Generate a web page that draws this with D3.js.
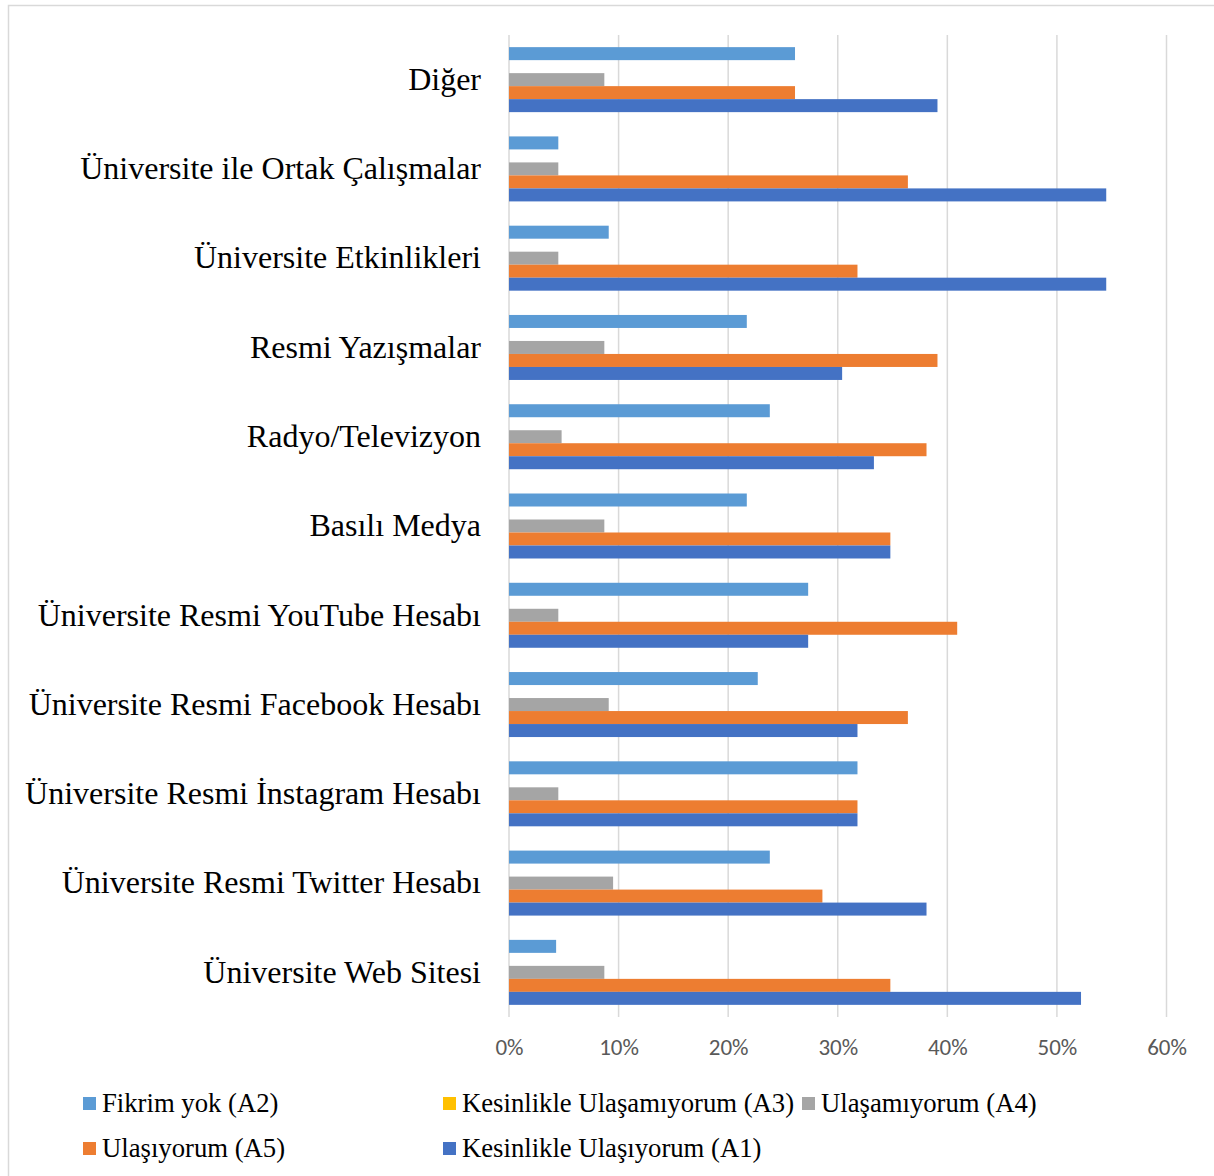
<!DOCTYPE html>
<html>
<head>
<meta charset="utf-8">
<script src="https://cdn.jsdelivr.net/npm/d3@7/dist/d3.min.js"></script>
<style>
html,body{margin:0;padding:0;background:#fff;}
svg{display:block;}
</style>
</head>
<body>
<svg id="chart" width="1214" height="1176"></svg>
<script>
// Categories, top to bottom as drawn
const categories = [
  "Diğer",
  "Üniversite ile Ortak Çalışmalar",
  "Üniversite Etkinlikleri",
  "Resmi Yazışmalar",
  "Radyo/Televizyon",
  "Basılı Medya",
  "Üniversite Resmi YouTube Hesabı",
  "Üniversite Resmi Facebook Hesabı",
  "Üniversite Resmi İnstagram Hesabı",
  "Üniversite Resmi Twitter Hesabı",
  "Üniversite Web Sitesi"
];
// Series values (%) in the same category order
const fikrimYokA2 = [26.1, 4.5, 9.1, 21.7, 23.8, 21.7, 27.3, 22.7, 31.8, 23.8, 4.3];
const kesinlikleUlasamiyorumA3 = [0, 0, 0, 0, 0, 0, 0, 0, 0, 0, 0];
const ulasamiyorumA4 = [8.7, 4.5, 4.5, 8.7, 4.8, 8.7, 4.5, 9.1, 4.5, 9.5, 8.7];
const ulasiyorumA5 = [26.1, 36.4, 31.8, 39.1, 38.1, 34.8, 40.9, 36.4, 31.8, 28.6, 34.8];
const kesinlikleUlasiyorumA1 = [39.1, 54.5, 54.5, 30.4, 33.3, 34.8, 27.3, 31.8, 31.8, 38.1, 52.2];

const seriesNames = ["Fikrim yok (A2)", "Kesinlikle Ulaşamıyorum (A3)", "Ulaşamıyorum (A4)", "Ulaşıyorum (A5)", "Kesinlikle Ulaşıyorum (A1)"];
const seriesValues = [fikrimYokA2, kesinlikleUlasamiyorumA3, ulasamiyorumA4, ulasiyorumA5, kesinlikleUlasiyorumA1];
const seriesColors = ["#5B9BD5", "#FFC000", "#A5A5A5", "#ED7D31", "#4472C4"];
const tickValues = [0, 10, 20, 30, 40, 50, 60];

const svg = d3.select("#chart");

// outer border
svg.append("rect").attr("x", 8.5).attr("y", 5.5).attr("width", 1220).attr("height", 1180)
  .attr("fill", "none").attr("stroke", "#D9D9D9").attr("stroke-width", 1.5);

const x = d3.scaleLinear().domain([0, 60]).range([509, 1166.5]);
const y = d3.scaleBand().domain(categories).range([35, 1017]).paddingInner(0.272).paddingOuter(0.136);
const ySub = d3.scaleBand().domain(d3.range(seriesNames.length)).range([0, y.bandwidth()]).padding(0);

// gridlines
svg.append("g").selectAll("line").data(tickValues).join("line")
  .attr("x1", d => x(d)).attr("x2", d => x(d))
  .attr("y1", 35).attr("y2", 1017)
  .attr("stroke", "#D9D9D9").attr("stroke-width", 1.5);

// bars
const rows = [];
categories.forEach((c, ci) => {
  seriesValues.forEach((vals, si) => {
    rows.push({c, si, v: vals[ci]});
  });
});
svg.append("g").selectAll("rect").data(rows.filter(d => d.v > 0)).join("rect")
  .attr("x", x(0))
  .attr("y", d => y(d.c) + ySub(d.si))
  .attr("width", d => x(d.v) - x(0))
  .attr("height", ySub.bandwidth())
  .attr("fill", d => seriesColors[d.si]);

// x axis tick labels
const xAxis = d3.axisBottom(x).tickValues(tickValues).tickSize(0).tickFormat(d => d + "%");
const gx = svg.append("g").attr("transform", "translate(0,1036)").call(xAxis);
gx.select(".domain").remove();
gx.selectAll("text")
  .attr("font-family", "'Liberation Sans Narrow', Carlito, Arial, sans-serif")
  .attr("font-size", 23).attr("fill", "#595959");

// category labels
const yAxis = d3.axisLeft(y).tickSize(0).tickPadding(0);
const gy = svg.append("g").attr("transform", "translate(481,0)").call(yAxis);
gy.select(".domain").remove();
gy.selectAll("text")
  .attr("font-family", "'Liberation Serif', 'Times New Roman', serif")
  .attr("font-size", 32).attr("fill", "#000");

// legend
const legendPos = [
  {x: 83, y: 1103}, {x: 443, y: 1103}, {x: 802, y: 1103},
  {x: 83, y: 1148}, {x: 443, y: 1148}
];
const lg = svg.append("g").selectAll("g").data(seriesNames).join("g")
  .attr("transform", (d, i) => `translate(${legendPos[i].x},${legendPos[i].y})`);
lg.append("rect").attr("x", 0).attr("y", -6).attr("width", 13).attr("height", 13)
  .attr("fill", (d, i) => seriesColors[i]);
lg.append("text").attr("x", 19).attr("y", 0).attr("dy", "0.35em")
  .attr("font-family", "'Liberation Serif', 'Times New Roman', serif")
  .attr("font-size", 26.7).attr("fill", "#000")
  .text(d => d);
</script>
</body>
</html>
